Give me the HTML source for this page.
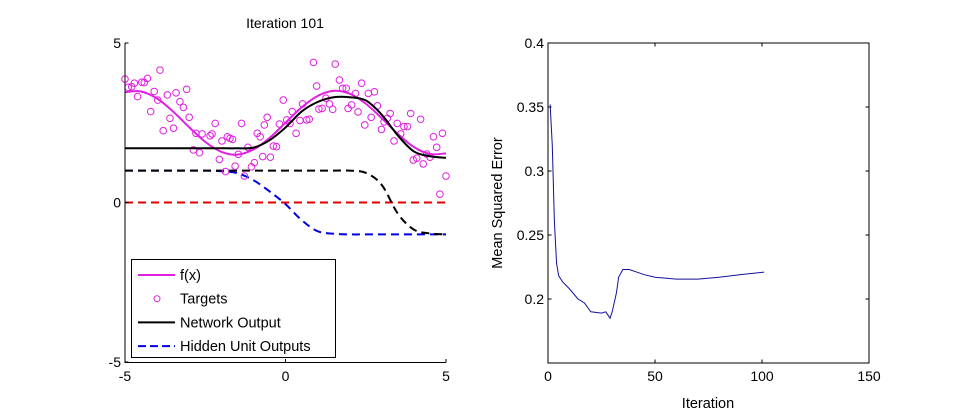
<!DOCTYPE html>
<html><head><meta charset="utf-8"><style>
html,body{margin:0;padding:0;background:#fff;width:960px;height:420px;overflow:hidden}
svg{font-family:"Liberation Sans",sans-serif}
</style></head><body>
<svg id="fig" width="960" height="420" xmlns="http://www.w3.org/2000/svg">
<g id="left"></g>
<g id="right"></g>
</svg>
<script>
const gridX=[-5,-4.5,-4,-3.5,-3,-2.5,-2,-1.5,-1,-0.5,0,0.5,1,1.5,2,2.5,3,3.5,4,4.5,5];
const fValues=[3.46,3.48,3.26,2.85,2.36,1.90,1.59,1.50,1.66,2.02,2.5,2.98,3.34,3.50,3.41,3.10,2.64,2.15,1.74,1.52,1.54];
const netValues=[1.7,1.7,1.7,1.7,1.7,1.7,1.7,1.7,1.72,1.95,2.35,2.85,3.15,3.3,3.3,3.2,2.75,2.1,1.6,1.45,1.4];
const hidden1=[1,1,1,1,1,1,1,1,1,1,1,1,1,1,1,0.93,0.55,-0.35,-0.85,-0.97,-1];
const hidden2=[1,1,1,1,1,1,0.98,0.92,0.7,0.35,-0.05,-0.55,-0.9,-0.98,-1,-1,-1,-1,-1,-1,-1];
const hidden3=[0,0,0,0,0,0,0,0,0,0,0,0,0,0,0,0,0,0,0,0,0];
const targetX=[-5.0,-4.9,-4.79,-4.71,-4.61,-4.48,-4.4,-4.3,-4.2,-4.09,-3.98,-3.91,-3.81,-3.68,-3.6,-3.49,-3.41,-3.29,-3.18,-3.08,-3.0,-2.87,-2.79,-2.68,-2.6,-2.35,-2.29,-2.19,-2.06,-1.98,-1.87,-1.81,-1.73,-1.65,-1.57,-1.47,-1.37,-1.28,-1.17,-1.06,-0.97,-0.88,-0.79,-0.71,-0.66,-0.57,-0.47,-0.38,-0.28,-0.19,-0.07,0.04,0.14,0.21,0.33,0.45,0.53,0.66,0.74,0.87,0.97,1.04,1.14,1.26,1.37,1.47,1.55,1.68,1.78,1.89,1.95,2.06,2.18,2.26,2.37,2.47,2.58,2.67,2.77,2.86,2.99,3.07,3.17,3.26,3.38,3.48,3.59,3.69,3.8,3.9,3.98,4.09,4.21,4.29,4.4,4.5,4.61,4.71,4.81,4.89,5.0];
const targetY=[3.87,3.61,3.63,3.74,3.32,3.77,3.76,3.89,2.85,3.48,3.21,4.15,2.25,3.37,2.64,2.33,3.44,3.16,2.98,3.55,2.67,1.65,2.17,1.56,2.15,2.09,2.15,2.48,1.35,1.93,0.97,2.06,2.01,1.98,1.14,1.51,2.48,0.83,1.73,1.12,1.25,2.17,2.06,1.44,2.43,2.67,1.42,1.77,1.75,2.46,3.21,2.59,2.48,2.85,2.17,2.57,3.09,2.59,2.61,4.39,3.65,2.93,2.95,3.27,3.09,2.92,4.34,3.84,3.58,3.58,2.95,3.06,3.42,2.84,3.74,2.43,3.42,2.67,3.47,3.03,2.29,2.53,2.64,2.79,1.93,2.48,2.15,2.38,2.38,2.79,1.33,1.39,2.61,1.21,1.52,1.42,2.06,1.73,0.26,2.17,0.83];
const leftXTicks=[-5,0,5];
const leftYTicks=[-5,0,5];
const mseIter=[1,2,3,4,5,7,10,14,17,20,25,27,29,30,32,33,35,38,45,50,60,70,80,90,101];
const mseValues=[0.352,0.32,0.26,0.228,0.218,0.213,0.208,0.2,0.197,0.19,0.189,0.19,0.185,0.19,0.205,0.217,0.223,0.223,0.219,0.217,0.2155,0.2155,0.217,0.219,0.221];
const rightXTicks=[0,50,100,150];
const rightYTicks=[0.2,0.25,0.3,0.35,0.4];

const NS="http://www.w3.org/2000/svg";
function mk(parent,tag,attrs,text){const e=document.createElementNS(NS,tag);for(const k in attrs)e.setAttribute(k,attrs[k]);if(text!==undefined)e.textContent=text;parent.appendChild(e);return e;}
const L=document.getElementById('left'),R=document.getElementById('right');
const lx=v=>125+(v+5)/10*321, ly=v=>202.5-v*31.9;
const rx=v=>548+v/150*321, ry=v=>363-(v-0.15)/0.25*320;

function smoothPath(xs,ys){const p=xs.map((x,i)=>[lx(x),ly(ys[i])]);let d=`M${p[0][0]},${p[0][1]}`;
for(let i=0;i<p.length-1;i++){const p0=p[Math.max(i-1,0)],p1=p[i],p2=p[i+1],p3=p[Math.min(i+2,p.length-1)];
d+=` C${p1[0]+(p2[0]-p0[0])/6},${p1[1]+(p2[1]-p0[1])/6} ${p2[0]-(p3[0]-p1[0])/6},${p2[1]-(p3[1]-p1[1])/6} ${p2[0]},${p2[1]}`;}return d;}

// left title
let t=mk(L,'text',{x:285,y:28,'font-size':14,'text-anchor':'middle'},'Iteration 101');


// series
let e;
e=mk(L,'path',{d:smoothPath(gridX,hidden3),fill:'none',stroke:'#e00000','stroke-width':2,'stroke-dasharray':'8,5'});


e=mk(L,'path',{d:smoothPath(gridX,hidden2),fill:'none',stroke:'#0000e0','stroke-width':2,'stroke-dasharray':'8,5'});


e=mk(L,'path',{d:smoothPath(gridX,hidden1),fill:'none',stroke:'#000','stroke-width':2,'stroke-dasharray':'8,5'});


targetX.forEach((x,i)=>{const c=mk(L,'circle',{cx:lx(x),cy:ly(targetY[i]),r:3.3,fill:'none',stroke:'#e020e0','stroke-width':1});

});
e=mk(L,'path',{d:smoothPath(gridX,fValues),fill:'none',stroke:'#e020e0','stroke-width':2});


e=mk(L,'path',{d:smoothPath(gridX,netValues),fill:'none',stroke:'#000','stroke-width':2});


// left axes
e=mk(L,'path',{d:`M125,43 V362.5 H446`,fill:'none',stroke:'#000','stroke-width':1});


leftXTicks.forEach(v=>{mk(L,'line',{x1:lx(v),x2:lx(v),y1:362.5,y2:359,stroke:'#000'});
const tx=mk(L,'text',{x:lx(v),y:381,'font-size':14,'text-anchor':'middle'},String(v));

});
leftYTicks.forEach(v=>{mk(L,'line',{x1:125,x2:128.5,y1:ly(v),y2:ly(v),stroke:'#000'});
const tx=mk(L,'text',{x:121,y:ly(v)+5,'font-size':14,'text-anchor':'end'},String(v));

});
// legend
const lg=mk(L,'g',{});


mk(lg,'rect',{x:131.5,y:259.5,width:204,height:98,fill:'#fff',stroke:'#000'});
const entries=[['f(x)','#e020e0','line'],['Targets','#e020e0','circle'],['Network Output','#000','line'],['Hidden Unit Outputs','#0000e0','dash']];
entries.forEach((en,i)=>{const y=275+i*23.7;const g=mk(lg,'g',{});


if(en[2]==='circle')mk(g,'circle',{cx:157,cy:y,r:3,fill:'none',stroke:en[1]});
else mk(g,'line',{x1:138,x2:175,y1:y,y2:y,stroke:en[1],'stroke-width':2,'stroke-dasharray':en[2]==='dash'?'8,4':'none'});
mk(g,'text',{x:180,y:y+5,'font-size':14.5},en[0]);});

// right plot
e=mk(R,'rect',{x:548,y:43,width:321,height:320,fill:'none',stroke:'#000'});


rightXTicks.forEach(v=>{mk(R,'line',{x1:rx(v),x2:rx(v),y1:363,y2:359.5,stroke:'#000'});mk(R,'line',{x1:rx(v),x2:rx(v),y1:43,y2:46.5,stroke:'#000'});
const tx=mk(R,'text',{x:rx(v),y:381,'font-size':14,'text-anchor':'middle'},String(v));

});
rightYTicks.forEach(v=>{mk(R,'line',{x1:548,x2:551.5,y1:ry(v),y2:ry(v),stroke:'#000'});mk(R,'line',{x1:869,x2:865.5,y1:ry(v),y2:ry(v),stroke:'#000'});
const tx=mk(R,'text',{x:544,y:ry(v)+5,'font-size':14,'text-anchor':'end'},String(v));

});
e=mk(R,'polyline',{points:mseIter.map((x,i)=>rx(x)+','+ry(mseValues[i])).join(' '),fill:'none',stroke:'#1010a0','stroke-width':1});


e=mk(R,'text',{x:708,y:408,'font-size':14.5,'text-anchor':'middle'},'Iteration');


e=mk(R,'text',{x:0,y:0,'font-size':14.5,'text-anchor':'middle',transform:'translate(502,203) rotate(-90)'},'Mean Squared Error');


</script>
</body></html>
